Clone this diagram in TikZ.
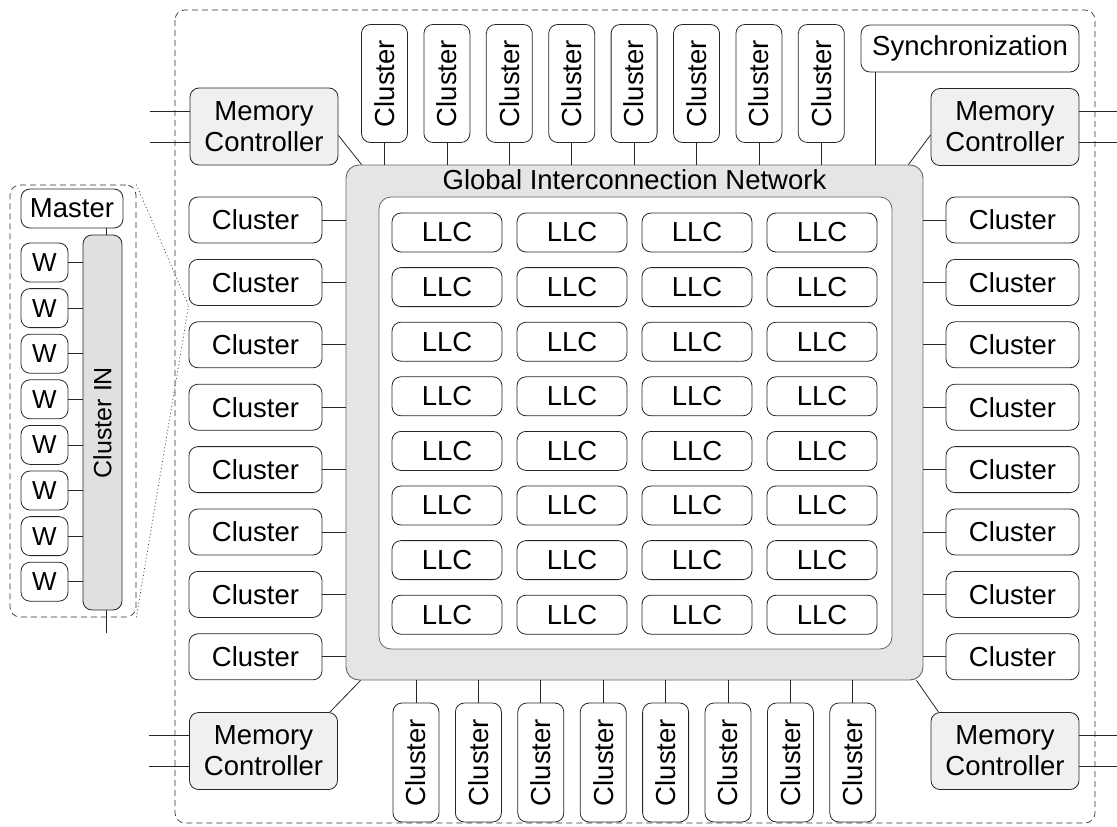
\documentclass[tikz,border=0pt]{standalone}
\usepackage{fontspec}
\setmainfont{Liberation Sans}
\definecolor{gingray}{gray}{0.90}
\definecolor{mcgray}{gray}{0.94}
\definecolor{bargray}{gray}{0.88}
\begin{document}
\begin{tikzpicture}[x=1pt,y=-1pt,
  every node/.style={font=\fontsize{27.5}{31}\selectfont, inner sep=0pt, align=center},
  blk/.style={draw=black!85, line width=0.8pt, rounded corners=9pt},
  hbox/.style={blk, minimum width=133pt, minimum height=46pt},
  vbox/.style={blk, minimum width=46pt, minimum height=118pt},
  llc/.style={blk, minimum width=110pt, minimum height=39pt},
  memctl/.style={blk, fill=mcgray, minimum width=148pt, minimum height=77pt},
  wbox/.style={blk, minimum width=47pt, minimum height=39pt, font=\fontsize{26}{30}\selectfont},
  wire/.style={draw=black!85, line width=0.8pt},
  frame/.style={draw=black!80, line width=0.7pt, dash pattern=on 6pt off 4pt, rounded corners=10pt},
  zoomline/.style={draw=black!75, line width=0.7pt, dash pattern=on 1pt off 2.5pt},
]
\useasboundingbox (0,0) rectangle (1117,827);

% chip boundary
\draw[frame] (175,10) rectangle (1095,823);

% global interconnection network with the last-level caches
\node[draw=black!60, fill=gingray, line width=0.9pt, rounded corners=13pt,
      minimum width=577pt, minimum height=515pt] (gin) at (634.5,422.5) {};
\node[anchor=base] (gintitle) at (634.5,189) {Global Interconnection Network};
\node[draw=black!60, fill=white, line width=0.8pt, rounded corners=12pt,
      minimum width=513pt, minimum height=452pt] (llcarea) at (635.5,423) {};
\foreach \r in {0,...,7}
  \foreach \c in {0,...,3}
    \node[llc] (llc-\r-\c) at ({447+125*\c},{232.5+54.6*\r}) {LLC};

% clusters on the four sides
\foreach \i in {0,...,7} {
  \node[vbox] (tc\i) at ({384.5+62.4*\i},83.5) {\rotatebox{90}{Cluster}};
  \draw[wire] (tc\i.south) -- (tc\i.south |- gin.north);
  \node[vbox, minimum height=119pt] (bc\i) at ({416+62.4*\i},762.5) {\rotatebox{90}{Cluster}};
  \draw[wire] (bc\i.north) -- (bc\i.north |- gin.south);
  \node[hbox] (lc\i) at (255.5,{220+62.4*\i}) {Cluster};
  \draw[wire] (lc\i.east) -- (lc\i.east -| gin.west);
  \node[hbox] (rc\i) at (1012.5,{220+62.4*\i}) {Cluster};
  \draw[wire] (rc\i.west) -- (rc\i.west -| gin.east);
}

% synchronization unit
\node[blk, minimum width=218pt, minimum height=47pt] (sync) at (970,48.5) {Synchronization};
\draw[wire] ([xshift=15pt]sync.south west) -- ([xshift=15pt]sync.south west |- gin.north);

% memory controllers
\node[memctl] (mctl) at (264,126.5) {Memory\\Controller};
\node[memctl] (mctr) at (1005,127) {Memory\\Controller};
\node[memctl] (mcbl) at (263.5,751) {Memory\\Controller};
\node[memctl] (mcbr) at (1005,751) {Memory\\Controller};

\draw[wire] ([yshift=30pt]mctl.south east) -- ([xshift=16pt]gin.north west);
\draw[wire] ([yshift=31pt]mctr.south west) -- ([xshift=-15pt]gin.north east);
\draw[wire] ([xshift=-8pt]mcbl.north east) -- ([xshift=15pt]gin.south west);
\draw[wire] ([xshift=8pt]mcbr.north west) -- ([xshift=-7pt]gin.south east);

\foreach \m/\d in {mctl/-40, mcbl/-40} {
  \draw[wire] ([yshift=15.5pt]\m.west) -- ++(\d,0);
  \draw[wire] ([yshift=-15.5pt]\m.west) -- ++(\d,0);
}
\foreach \m/\d in {mctr/40, mcbr/40} {
  \draw[wire] ([yshift=15.5pt]\m.east) -- ++(\d,0);
  \draw[wire] ([yshift=-15.5pt]\m.east) -- ++(\d,0);
}

% detail of one cluster
\node[frame, minimum width=126pt, minimum height=432pt] (detail) at (73,401) {};
\node[blk, minimum width=102pt, minimum height=39pt] (master) at (72,208.5) {Master};
\node[blk, fill=bargray, minimum width=39pt, minimum height=375pt,
      font=\fontsize{25}{29}\selectfont] (cin) at (102.5,422.5) {\rotatebox{90}{Cluster IN}};
\draw[wire] ([xshift=4pt]cin.north) -- ([xshift=4pt]cin.north |- master.south);
\draw[wire] ([xshift=4pt]cin.south) -- ++(0,23);
\foreach \i in {0,...,7} {
  \node[wbox] (w\i) at (44.5,{262.5+45.6*\i}) {W};
  \draw[wire] (w\i.east) -- (w\i.east -| cin.west);
}
\draw[zoomline] (detail.north east) -- (lc1.south west);
\draw[zoomline] (detail.south east) -- (lc1.south west);
\end{tikzpicture}
\end{document}
